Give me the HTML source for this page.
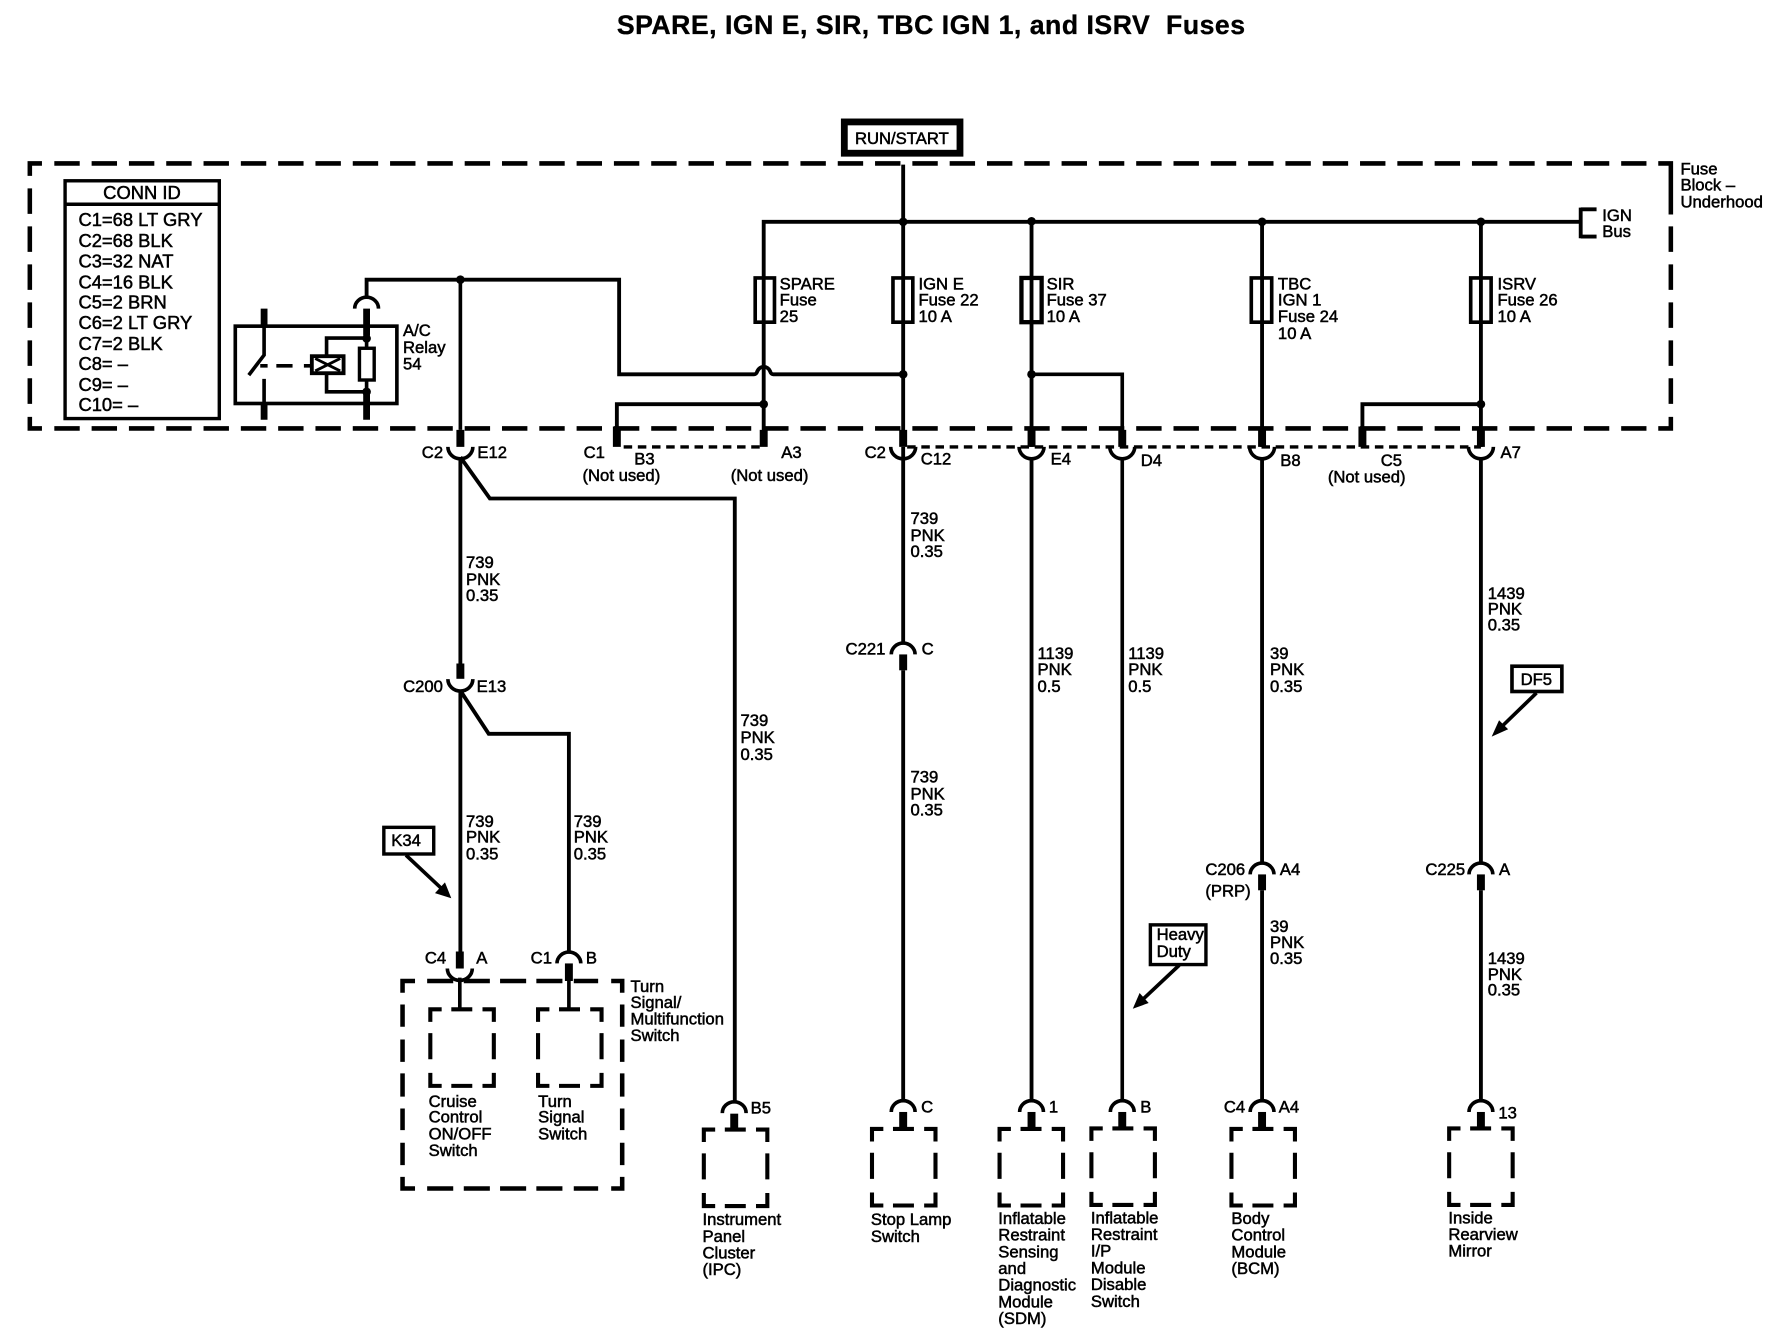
<!DOCTYPE html>
<html><head><meta charset="utf-8"><style>
html,body{margin:0;padding:0;background:#fff}
svg{display:block}
text{font-family:"Liberation Sans",Arial,sans-serif;font-size:14.7px;fill:#000;stroke:#000;stroke-width:.45px}
.w{fill:none;stroke:#000;stroke-width:3.4}
.t{fill:none;stroke:#000;stroke-width:7}
.a{fill:none;stroke:#000;stroke-width:3.2}
.d{fill:none;stroke:#000;stroke-width:4}
.b{fill:none;stroke:#000;stroke-width:3.6}
.c{font-size:16.2px}
</style></head><body>
<svg xmlns="http://www.w3.org/2000/svg" width="1778" height="1344" viewBox="0 0 1568 1185">
<defs>
<path id="bx" class="b" d="M0,11V0H10M18.5,0H37M46,0H56V11M0,21V44M56,21V44M0,56V67.5H10M18.5,67.5H37M46,67.5H56V56"/>
<path id="u" class="a" d="M-11,0A11,10.5 0 0 0 11,0"/>
<path id="n" class="a" d="M-10.5,0A10.5,10 0 0 1 10.5,0"/>
<circle id="j" r="3.8" fill="#000"/>
</defs>
<rect width="1568" height="1185" fill="#fff"/>
<text x="544" y="30" style="font-size:23.5px;font-weight:bold;stroke-width:.3px" textLength="554" xml:space="preserve">SPARE, IGN E, SIR, TBC IGN 1, and ISRV  Fuses</text>

<!-- frame -->
<path class="d" d="M26.3,155V144H37M26.3,367.500V377.700H37M1462.400,144H1473.500V189M1473.500,367.500V377.700H1462.400"/>
<path class="d" stroke-dasharray="22.400 10.500" d="M47.900,144H1452M47.900,377.700H1452"/>
<path class="d" stroke-dasharray="22.500 11" d="M26.300,166V357M1473.500,199.500V357"/>

<!-- run/start -->
<rect x="744.600" y="107.400" width="102" height="27.600" fill="#fff" stroke="#000" stroke-width="6"/>
<text x="754" y="127">RUN/START</text>

<!-- bus -->
<path class="w" d="M796.500,145V390M673.500,390V195.500H1394M1394,183V210M1394,184.500H1408M1394,208.500H1408"/>
<path class="w" d="M909.700,195.500V394M1113,195.500V394M1306,195.500V394"/>
<use href="#j" x="796.500" y="195.500"/><use href="#j" x="909.700" y="195"/><use href="#j" x="1113" y="195.500"/><use href="#j" x="1306" y="195.500"/>
<!-- fuses -->
<g fill="none" stroke="#000" stroke-width="3.2">
<rect x="666" y="245" width="17" height="39"/>
<rect x="787.500" y="245" width="17.500" height="39"/>
<rect x="900.800" y="245" width="17.800" height="39" stroke-width="3.8"/>
<rect x="1103.500" y="245" width="18" height="39"/>
<rect x="1297" y="245" width="18" height="39"/>
</g>
<text x="687.600" y="255">SPARE</text><text x="687.600" y="269.300">Fuse</text><text x="687.600" y="284">25</text>
<text x="810" y="255">IGN E</text><text x="810" y="269.300">Fuse 22</text><text x="810" y="284">10 A</text>
<text x="923" y="255">SIR</text><text x="923" y="269.300">Fuse 37</text><text x="923" y="284">10 A</text>
<text x="1127" y="255">TBC</text><text x="1127" y="269.300">IGN 1</text><text x="1127" y="284">Fuse 24</text><text x="1127" y="298.700">10 A</text>
<text x="1320.600" y="255">ISRV</text><text x="1320.600" y="269.300">Fuse 26</text><text x="1320.600" y="284">10 A</text>
<text x="1413" y="194.600">IGN</text><text x="1413" y="208.700">Bus</text>
<text x="1482" y="153.800">Fuse</text><text x="1482" y="168">Block –</text><text x="1482" y="182.800">Underhood</text>

<!-- CONN ID -->
<rect x="57.400" y="159.300" width="136" height="209.700" fill="none" stroke="#000" stroke-width="3"/>
<path d="M57.400,180H193.400" stroke="#000" stroke-width="3"/>
<text class="c" x="91" y="175.200">CONN ID</text>
<text class="c" x="69.200" y="199.300">C1=68 LT GRY</text>
<text class="c" x="69.200" y="217.500">C2=68 BLK</text>
<text class="c" x="69.200" y="235.800">C3=32 NAT</text>
<text class="c" x="69.200" y="254.300">C4=16 BLK</text>
<text class="c" x="69.200" y="272">C5=2 BRN</text>
<text class="c" x="69.200" y="290">C6=2 LT GRY</text>
<text class="c" x="69.200" y="308.600">C7=2 BLK</text>
<text class="c" x="69.200" y="326.300">C8= –</text>
<text class="c" x="69.200" y="344.500">C9= –</text>
<text class="c" x="69.200" y="362.200">C10= –</text>

<!-- relay -->
<rect x="207.500" y="287.500" width="142.500" height="68.200" fill="none" stroke="#000" stroke-width="3.200"/>
<path stroke="#000" stroke-width="6" d="M232.900,272V288M232.900,356V370M323.300,272V296M323.300,345V370" fill="none"/>
<path class="a" d="M232.900,288V313L219.400,330.700M232.900,334V356M323.300,296V306M323.300,334V346M323.300,298H288V345.400H323.300"/>
<path class="a" d="M229.500,322.500H236M243.700,322.500H258M268,322.500H274"/>
<rect x="275" y="314" width="28" height="15" fill="#fff" stroke="#000" stroke-width="3.400"/>
<path d="M278,316L300,327M278,327L300,316" stroke="#000" stroke-width="2.500"/>
<rect x="317" y="307" width="13" height="28" fill="none" stroke="#000" stroke-width="3"/>
<use href="#j" x="323.300" y="298.400"/><use href="#j" x="323.300" y="345.400"/>
<use href="#n" x="323.300" y="272"/>
<text x="355.400" y="296.300">A/C</text><text x="355.400" y="311">Relay</text><text x="355.400" y="325.700">54</text>

<path class="w" d="M323.300,262V246.500H546V330H665Q667,330 668,327A6,6 0 0 1 679,327Q680,330 682,330H796.500"/>
<path class="a" d="M406,246.500V379M909.700,330H989.700V390"/>
<use href="#j" x="406" y="246.500"/><use href="#j" x="796.500" y="330"/><use href="#j" x="909.700" y="330"/>
<path class="w" d="M544,376V356.300H673.500M1201.500,376V356.300H1306"/>
<use href="#j" x="673.500" y="356.300"/><use href="#j" x="1306" y="356.300"/>

<!-- dotted -->
<path d="M550,394H673M800,394H1306" fill="none" stroke="#000" stroke-width="3" stroke-dasharray="7.500 5"/>

<!-- stubs -->
<path class="t" d="M406,379V394M544,376V394M673.500,379V394M796.500,379V394M909.700,379V394M989.700,379V394M1113,379V394M1201.500,376V394M1306,379V394"/>
<use href="#u" x="406" y="394"/><use href="#u" x="796.500" y="394"/><use href="#u" x="909.700" y="394"/><use href="#u" x="989.700" y="394"/><use href="#u" x="1113" y="394"/><use href="#u" x="1306" y="394"/>

<text x="372" y="404">C2</text><text x="421" y="404">E12</text>
<text x="514.700" y="404">C1</text><text x="559.400" y="409.500">B3</text><text x="513.700" y="424.200">(Not used)</text>
<text x="689" y="404">A3</text><text x="644.400" y="424.200">(Not used)</text>
<text x="762.500" y="404">C2</text><text x="812" y="409.500">C12</text>
<text x="926.600" y="409.500">E4</text><text x="1006" y="411">D4</text>
<text x="1129" y="410.700">B8</text><text x="1217.700" y="411">C5</text><text x="1171" y="425.600">(Not used)</text>
<text x="1323.300" y="404">A7</text>

<!-- wires down -->
<path class="w" d="M406,403V585M406,403L432,439.500H648V972"/>
<path class="t" d="M406,585V598.500"/><use href="#u" x="406" y="598.800"/>
<text x="355.500" y="610">C200</text><text x="420.300" y="610">E13</text>
<path class="w" d="M406,608V840M406,609L431,647H501.700V840"/>
<text x="411" y="501">739</text><text x="411" y="516">PNK</text><text x="411" y="530">0.35</text>
<text x="411" y="729">739</text><text x="411" y="743">PNK</text><text x="411" y="758">0.35</text>
<text x="506" y="729">739</text><text x="506" y="743">PNK</text><text x="506" y="758">0.35</text>
<text x="653" y="640">739</text><text x="653" y="655">PNK</text><text x="653" y="670">0.35</text>

<!-- K34 -->
<rect x="338.500" y="729.500" width="44" height="23.500" fill="#fff" stroke="#000" stroke-width="3"/>
<text x="345" y="746">K34</text>
<path class="a" d="M358,754L390,784"/><polygon points="398,792 392.400,778 383.600,787.500"/>

<!-- turn switch -->
<path class="d" d="M366,865H355V875.400M355,885.700V905.400M355,916.600V936.300M355,946.500V967M355,977.400V996.500M355,1007.700V1027.400M355,1037.700V1048H366"/>
<path class="d" d="M539,865H548.700V875.400M548.700,885.700V905.400M548.700,916.600V936.300M548.700,946.500V967M548.700,977.400V996.500M548.700,1007.700V1027.400M548.700,1037.700V1048H539"/>
<path class="d" d="M376.700,865H399.700M409,865H432M441,865H464M473,865H496M506,865H527.500M376.700,1048H399.700M409,1048H432M441,1048H464M473,1048H496M506,1048H527.500"/>
<path class="t" d="M405.500,839V854"/><use href="#u" x="405.500" y="854"/>
<path class="a" d="M405.500,862V890M501.700,865V890"/>
<use href="#n" x="501.700" y="849.500"/><path class="t" d="M501.700,849.500V865"/>
<use href="#bx" x="379.500" y="890"/><use href="#bx" x="474.500" y="890"/>
<text x="374.700" y="849.500">C4</text><text x="420" y="849.500">A</text><text x="468" y="849.500">C1</text><text x="516.700" y="849.500">B</text>
<text x="556" y="874.500">Turn</text><text x="556" y="889">Signal/</text><text x="556" y="903.300">Multifunction</text><text x="556" y="918">Switch</text>
<text x="378" y="976">Cruise</text><text x="378" y="990">Control</text><text x="378" y="1004.700">ON/OFF</text><text x="378" y="1019.400">Switch</text>
<text x="474.600" y="976">Turn</text><text x="474.600" y="990">Signal</text><text x="474.600" y="1004.700">Switch</text>

<!-- IPC -->
<use href="#n" x="647.500" y="981.500"/><path class="t" d="M647.500,982V996"/><use href="#bx" x="620.700" y="996"/>
<text x="662" y="981.800">B5</text>
<text x="619.500" y="1080.300">Instrument</text><text x="619.500" y="1095">Panel</text><text x="619.500" y="1109.700">Cluster</text><text x="619.500" y="1124.400">(IPC)</text>

<!-- stop lamp -->
<path class="w" d="M796.500,394V567"/><use href="#n" x="796.500" y="577"/><path class="t" d="M796.500,577V591"/>
<path class="w" d="M796.500,591V970"/>
<text x="803" y="462">739</text><text x="803" y="477">PNK</text><text x="803" y="491">0.35</text>
<text x="745.700" y="577">C221</text><text x="812.800" y="577">C</text>
<text x="803" y="690">739</text><text x="803" y="705">PNK</text><text x="803" y="719">0.35</text>
<use href="#n" x="796.500" y="980.500"/><path class="t" d="M796.500,980.500V995"/><use href="#bx" x="769" y="995.500"/>
<text x="812.300" y="981">C</text>
<text x="768" y="1080.300">Stop Lamp</text><text x="768" y="1095">Switch</text>

<!-- SDM -->
<path class="w" d="M909.700,404V970"/>
<text x="915" y="581">1139</text><text x="915" y="595">PNK</text><text x="915" y="610">0.5</text>
<use href="#n" x="909.700" y="980.500"/><path class="t" d="M909.700,980.500V995"/><use href="#bx" x="881.500" y="995.500"/>
<text x="925" y="981">1</text>
<text x="880.400" y="1079.400">Inflatable</text><text x="880.400" y="1094">Restraint</text><text x="880.400" y="1108.800">Sensing</text><text x="880.400" y="1123.500">and</text><text x="880.400" y="1138">Diagnostic</text><text x="880.400" y="1152.900">Module</text><text x="880.400" y="1167.600">(SDM)</text>

<!-- Disable -->
<path class="a" d="M989.700,404V970"/>
<text x="995" y="581">1139</text><text x="995" y="595">PNK</text><text x="995" y="610">0.5</text>
<rect x="1014.500" y="815.500" width="49" height="35" fill="#fff" stroke="#000" stroke-width="3"/>
<text x="1020" y="829">Heavy</text><text x="1020" y="844">Duty</text>
<path class="a" d="M1040,851L1007,882"/><polygon points="999,889.500 1005,875.600 1013,884.400"/>
<use href="#n" x="989.700" y="980.500"/><path class="t" d="M989.700,980.500V995"/><use href="#bx" x="962.500" y="995"/>
<text x="1005.600" y="981">B</text>
<text x="962" y="1078.800">Inflatable</text><text x="962" y="1093.500">Restraint</text><text x="962" y="1108">I/P</text><text x="962" y="1122.900">Module</text><text x="962" y="1137.600">Disable</text><text x="962" y="1152.300">Switch</text>

<!-- BCM -->
<path class="w" d="M1113,404V760M1113,785V970"/>
<text x="1120" y="581">39</text><text x="1120" y="595">PNK</text><text x="1120" y="610">0.35</text>
<use href="#n" x="1113" y="771"/><path class="t" d="M1113,771V785"/>
<text x="1063" y="771.500">C206</text><text x="1063" y="790.500">(PRP)</text><text x="1128.700" y="771.500">A4</text>
<text x="1120" y="822">39</text><text x="1120" y="836">PNK</text><text x="1120" y="850">0.35</text>
<use href="#n" x="1113" y="980.500"/><path class="t" d="M1113,980.500V995"/><use href="#bx" x="1086" y="995.500"/>
<text x="1079.300" y="981">C4</text><text x="1127.700" y="981">A4</text>
<text x="1086" y="1079.400">Body</text><text x="1086" y="1094">Control</text><text x="1086" y="1108.800">Module</text><text x="1086" y="1123.500">(BCM)</text>

<!-- mirror -->
<path class="w" d="M1306,404V760M1306,785V970"/>
<text x="1312" y="528">1439</text><text x="1312" y="542">PNK</text><text x="1312" y="556">0.35</text>
<rect x="1333.400" y="587.400" width="44" height="22.300" fill="#fff" stroke="#000" stroke-width="3.200"/>
<text x="1341" y="604">DF5</text>
<path class="a" d="M1355,611L1324,641"/><polygon points="1315.500,649.500 1322,635 1330,643"/>
<use href="#n" x="1306" y="771"/><path class="t" d="M1306,771V785"/>
<text x="1257" y="771.500">C225</text><text x="1322" y="771.500">A</text>
<text x="1312" y="850">1439</text><text x="1312" y="864">PNK</text><text x="1312" y="878">0.35</text>
<use href="#n" x="1306" y="980.500"/><path class="t" d="M1306,980.500V995"/><use href="#bx" x="1278" y="995"/>
<text x="1321.400" y="986.200">13</text>
<text x="1277.300" y="1078.800">Inside</text><text x="1277.300" y="1093.500">Rearview</text><text x="1277.300" y="1108">Mirror</text>
</svg>
</body></html>
